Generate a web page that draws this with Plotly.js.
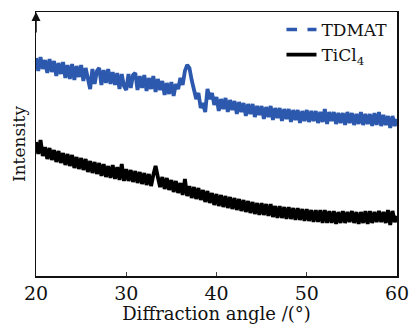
<!DOCTYPE html>
<html><head><meta charset="utf-8">
<script src="https://cdn.plot.ly/plotly-3.0.1.min.js"></script>
<style>html,body{margin:0;padding:0;background:#fff}#c{width:409px;height:324px}</style>
</head><body><div id="c"></div>
<script>
var angleStart = 20, angleStep = 0.25;
var tdmat = [
218,205,219,207, 216,203,217,204, 215,200,213,202, 214,198,211,197,
212,196,210,199, 211,195,208,197, 187,207,192,205, 208,191,206,193,
207,192,204,191, 203,187,202,190, 186,202,188,201, 203,186,200,188,
201,185,198,187, 200,184,197,186, 195,181,193,182, 194,180,192,187,
198,191,205,211, 208,196,186,177, 183,168,173,164, 187,177,183,171,
179,165,177,167, 178,164,176,166, 175,162,174,164, 173,160,172,162,
172,159,170,161, 170,157,169,159, 170,156,168,158, 168,155,167,157,
167,154,166,156, 166,153,165,155, 166,154,165,155, 165,153,164,154,
167,152,164,155, 164,152,163,153, 163,151,164,153, 163,151,162,152,
164,151,162,152, 162,150,163,151, 164,150,161,151, 160,148,160,150,
157];
var ticl4 = [
134,122,136,120, 129,117,128,116, 126,114,125,113, 123,111,122,110,
121,108,119,107, 118,106,117,104, 115,103,114,102, 113,100,112,99,
110,98,111,97, 109,96,112,95, 107,95,106,94, 105,93,104,92,
103,91,102,90, 101,110,99,89, 99,87,98,86, 96,84,95,83,
93,81,97,80, 90,78,89,77, 88,76,86,74, 85,73,83,71,
82,70,81,69, 80,68,79,67, 78,66,77,65, 76,64,75,63,
74,62,73,61, 73,61,72,60, 72,59,70,58, 70,58,69,57,
69,57,68,56, 68,56,67,55, 67,55,66,54, 66,54,66,53,
66,53,65,53, 65,52,64,53, 65,53,64,54, 65,53,64,52,
64,53,65,52, 65,53,64,54, 65,54,64,53, 66,51,65,54,
60];
var seriesNames = ['TDMAT', 'TiCl<sub>4</sub>'];
var xTicks = [20, 30, 40, 50, 60];

var angles = tdmat.map(function(_, i){ return angleStart + i*angleStep; });
var blue = '#2c58ad';
var font = "DejaVu Serif";

var traces = [
  {x: angles, y: tdmat, mode:'lines', line:{color:blue, width:3.8}, showlegend:false},
  {x: [null], y:[null], mode:'lines', name: seriesNames[0], line:{color:blue, width:3.5, dash:'dash'}},
  {x: angles, y: ticl4, mode:'lines', name: seriesNames[1], line:{color:'#000', width:3.8}}
];
var layout = {
  width:409, height:324,
  margin:{l:36, r:12, t:12, b:48},
  paper_bgcolor:'#fff', plot_bgcolor:'#fff',
  font:{family:font, color:'#111', size:17},
  xaxis:{range:[20,60], tickvals:xTicks, ticks:'inside', ticklen:4, tickwidth:1,
    ticklabeloverflow:'allow',
    showline:true, linecolor:'#111', linewidth:1.5, mirror:true, showgrid:false, zeroline:false,
    tickfont:{size:19, family:font}, title:{text:'Diffraction angle /(°)', font:{size:18, family:font}, standoff:0}},
  yaxis:{range:[0,264], showticklabels:false, ticks:'', showline:true, linecolor:'#111', linewidth:1.5,
    mirror:true, showgrid:false, zeroline:false,
    title:{text:'Intensity', font:{size:17, family:font}, standoff:4}},
  legend:{x:0.68, y:1.0, xanchor:'left', yanchor:'top', bgcolor:'rgba(0,0,0,0)',
    font:{size:17, family:font}, tracegroupgap:0, itemwidth:30},
  annotations:[{x:0, y:1, xref:'paper', yref:'paper', ax:0, ay:22, text:'', showarrow:true,
    arrowhead:2, arrowsize:1.2, arrowwidth:1.5, arrowcolor:'#111'}]
};
Plotly.newPlot('c', traces, layout, {displayModeBar:false, staticPlot:true});
</script></body></html>
